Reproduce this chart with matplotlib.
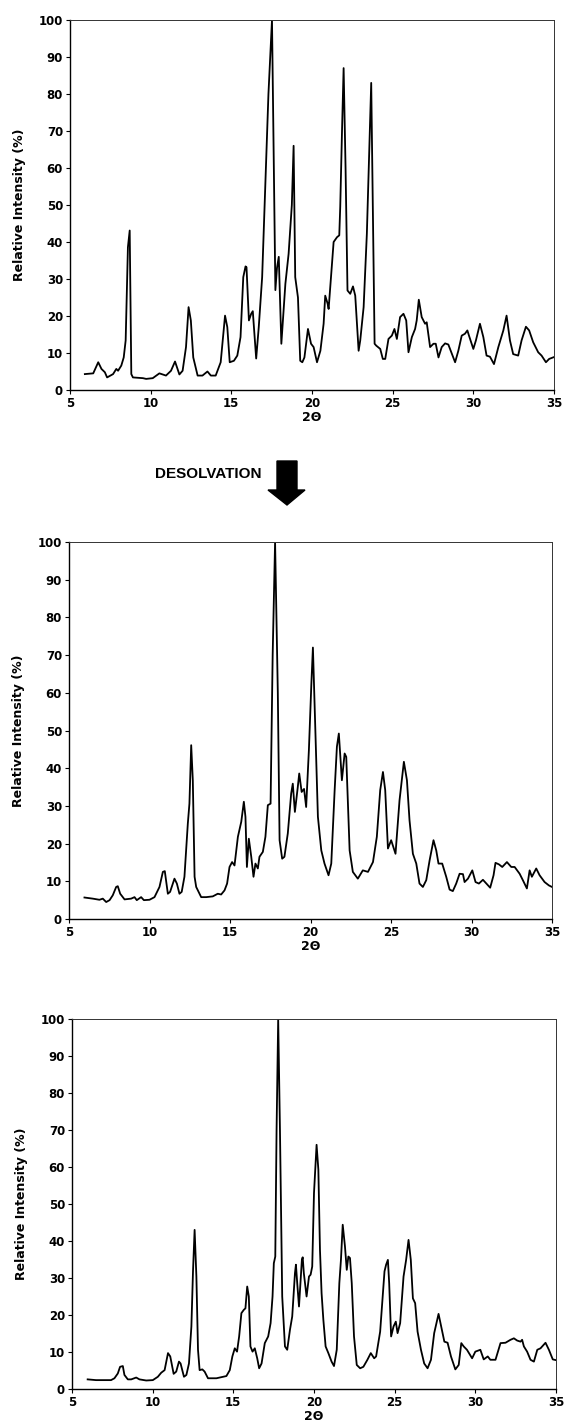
import matplotlib
matplotlib.use("Agg")
import matplotlib.pyplot as plt
from matplotlib.patches import Polygon

plt.rcParams['font.family'] = ['DejaVu Sans']
plt.rcParams['font.weight'] = 'bold'

# --- top pattern (solvate) ---
two_theta_a = [5.92, 6.44, 6.75, 6.95, 7.16, 7.30, 7.67, 7.87, 7.98, 8.18, 8.33, 8.45, 8.59, 8.70, 8.80, 8.90,
               9.52, 9.72, 10.13, 10.54, 10.95, 11.26, 11.51, 11.78, 11.98, 12.19, 12.35, 12.49, 12.64, 12.91,
               13.21, 13.52, 13.73, 14.03, 14.34, 14.61, 14.75, 14.90, 15.16, 15.37, 15.57, 15.74, 15.88, 15.94,
               16.09, 16.23, 16.33, 16.54, 16.70, 16.91, 17.11, 17.30, 17.52, 17.73, 17.83, 17.94, 18.10, 18.35,
               18.55, 18.75, 18.86, 18.96, 19.13, 19.27, 19.40, 19.53, 19.75, 19.94, 20.10, 20.31, 20.52, 20.72,
               20.82, 20.97, 21.03, 21.24, 21.34, 21.55, 21.69, 21.75, 21.86, 21.96, 22.08, 22.20, 22.37, 22.54,
               22.68, 22.89, 22.99, 23.20, 23.40, 23.55, 23.67, 23.77, 23.88, 23.98, 24.23, 24.39, 24.54, 24.74,
               24.95, 25.11, 25.26, 25.46, 25.67, 25.84, 25.98, 26.19, 26.39, 26.49, 26.62, 26.80, 27.01, 27.11,
               27.32, 27.53, 27.67, 27.84, 28.04, 28.25, 28.45, 28.60, 28.87, 29.07, 29.28, 29.48, 29.63, 29.73,
               30.00, 30.16, 30.41, 30.62, 30.82, 31.03, 31.28, 31.55, 31.86, 32.06, 32.27, 32.47, 32.78, 32.99,
               33.26, 33.46, 33.71, 34.02, 34.23, 34.50, 34.70, 35.00]
intensity_a = [4.3, 4.5, 7.5, 5.7, 4.8, 3.4, 4.3, 5.7, 5.2, 6.6, 8.8, 13.4, 38.6, 43.1, 4.3, 3.4,
               3.2, 3.0, 3.2, 4.5, 3.9, 5.2, 7.7, 4.2, 5.2, 11.6, 22.4, 18.8, 8.8, 3.9,
               3.9, 5.0, 3.9, 3.9, 7.5, 20.1, 17.0, 7.5, 7.9, 9.3, 14.3, 30.5, 33.4, 33.2,
               18.8, 20.6, 21.3, 8.5, 17.0, 30.5, 56.0, 80.0, 100.0, 27.0, 33.0, 36.0, 12.5, 28.7,
               36.8, 50.0, 66.0, 30.5, 25.0, 7.9, 7.5, 8.8, 16.5, 12.5, 11.6, 7.5, 10.6, 17.9,
               25.5, 23.3, 21.9, 34.0, 40.0, 41.3, 41.8, 49.5, 70.0, 87.0, 60.0, 26.9, 26.0, 28.0,
               25.5, 10.6, 13.4, 22.4, 42.2, 65.0, 83.0, 50.0, 12.5, 12.0, 11.1, 8.4, 8.4, 13.8,
               14.7, 16.5, 13.8, 19.7, 20.6, 18.8, 10.2, 14.3, 16.5, 18.8, 24.4, 19.7, 17.9, 18.3,
               11.6, 12.5, 12.5, 8.8, 11.6, 12.6, 12.3, 10.6, 7.5, 10.6, 14.7, 15.2, 16.1, 14.7,
               11.1, 13.4, 17.9, 14.3, 9.3, 9.0, 7.0, 11.6, 16.1, 20.1, 13.4, 9.7, 9.3, 13.4,
               17.1, 16.1, 12.9, 10.2, 9.3, 7.5, 8.4, 8.9]

# --- middle pattern (after desolvation) ---
two_theta_b = [5.96, 6.48, 6.89, 7.10, 7.31, 7.52, 7.72, 7.93, 8.03, 8.18, 8.45, 8.86, 9.07, 9.21, 9.48, 9.65,
               10.00, 10.31, 10.52, 10.62, 10.83, 10.95, 11.14, 11.28, 11.55, 11.70, 11.86, 12.00, 12.17, 12.38,
               12.48, 12.59, 12.69, 12.80, 12.90, 13.21, 13.52, 13.93, 14.24, 14.45, 14.66, 14.82, 14.97, 15.13,
               15.28, 15.49, 15.70, 15.86, 15.96, 16.05, 16.17, 16.32, 16.46, 16.58, 16.73, 16.83, 17.04, 17.20,
               17.35, 17.52, 17.65, 17.80, 17.97, 18.08, 18.24, 18.38, 18.59, 18.80, 18.90, 19.03, 19.21, 19.30,
               19.45, 19.60, 19.73, 19.90, 20.05, 20.15, 20.31, 20.46, 20.67, 20.87, 21.12, 21.29, 21.50, 21.64,
               21.76, 21.95, 22.12, 22.22, 22.43, 22.63, 22.94, 23.25, 23.57, 23.88, 24.12, 24.33, 24.50, 24.64,
               24.81, 25.01, 25.28, 25.53, 25.80, 25.99, 26.15, 26.36, 26.57, 26.77, 26.98, 27.19, 27.40, 27.64,
               27.81, 27.95, 28.18, 28.43, 28.64, 28.84, 29.05, 29.26, 29.47, 29.57, 29.78, 30.05, 30.25, 30.46,
               30.71, 30.92, 31.16, 31.37, 31.49, 31.70, 31.91, 32.20, 32.47, 32.68, 32.99, 33.19, 33.44, 33.61,
               33.75, 34.02, 34.23, 34.54, 34.81, 35.00]
intensity_b = [5.7, 5.4, 5.1, 5.4, 4.5, 5.0, 6.3, 8.5, 8.7, 6.7, 5.2, 5.4, 5.8, 5.0, 5.8, 5.0,
               5.1, 5.8, 7.6, 8.5, 12.5, 12.7, 6.7, 7.2, 10.7, 9.4, 6.7, 7.2, 11.2, 25.3,
               30.6, 46.1, 36.8, 11.2, 8.5, 5.8, 5.8, 6.0, 6.7, 6.5, 7.6, 9.4, 13.8, 15.1,
               14.2, 21.8, 25.8, 31.1, 27.1, 13.8, 21.3, 16.5, 11.2, 14.7, 13.4, 16.5, 17.8, 21.8,
               30.2, 30.6, 70.0, 100.0, 60.0, 20.9, 16.0, 16.5, 22.7, 33.3, 35.9, 28.4, 35.0, 38.6,
               33.7, 34.5, 29.7, 44.8, 62.0, 72.0, 49.2, 27.1, 18.2, 14.7, 11.6, 14.7, 34.2, 45.7,
               49.2, 36.8, 43.9, 43.0, 18.2, 12.5, 10.7, 12.9, 12.5, 15.1, 21.8, 34.2, 39.0, 34.2,
               18.7, 20.9, 17.3, 31.5, 41.7, 36.8, 26.2, 17.3, 14.7, 9.4, 8.5, 10.3, 15.6, 20.9,
               18.2, 14.7, 14.7, 11.2, 7.8, 7.4, 9.4, 12.0, 11.9, 9.8, 10.7, 12.9, 9.8, 9.4,
               10.4, 9.4, 8.3, 11.6, 14.9, 14.5, 13.8, 15.1, 13.8, 13.8, 12.0, 10.3, 8.1, 12.9,
               11.2, 13.4, 11.6, 9.8, 8.9, 8.5]

# --- bottom pattern (reference form) ---
two_theta_c = [5.97, 6.49, 6.91, 7.42, 7.63, 7.84, 7.98, 8.15, 8.25, 8.46, 8.67, 8.98, 9.18, 9.60, 10.01, 10.32,
               10.53, 10.74, 10.95, 11.09, 11.30, 11.46, 11.63, 11.73, 11.94, 12.09, 12.25, 12.40, 12.50, 12.60,
               12.71, 12.81, 12.91, 13.08, 13.22, 13.43, 13.95, 14.36, 14.57, 14.78, 14.94, 15.09, 15.23, 15.36,
               15.50, 15.65, 15.75, 15.86, 15.96, 16.06, 16.19, 16.33, 16.48, 16.60, 16.75, 16.95, 17.16, 17.31,
               17.43, 17.51, 17.60, 17.68, 17.78, 17.89, 18.03, 18.20, 18.34, 18.51, 18.65, 18.82, 18.88, 18.96,
               19.07, 19.25, 19.30, 19.37, 19.54, 19.69, 19.79, 19.89, 20.00, 20.16, 20.27, 20.37, 20.47, 20.58,
               20.72, 20.89, 21.09, 21.24, 21.41, 21.57, 21.67, 21.78, 21.92, 22.03, 22.13, 22.23, 22.34, 22.48,
               22.65, 22.86, 23.06, 23.31, 23.52, 23.73, 23.85, 24.10, 24.26, 24.37, 24.47, 24.58, 24.66, 24.78,
               24.93, 25.07, 25.18, 25.34, 25.55, 25.71, 25.86, 26.00, 26.13, 26.27, 26.42, 26.63, 26.83, 27.04,
               27.25, 27.45, 27.72, 27.93, 28.08, 28.28, 28.49, 28.76, 28.97, 29.13, 29.28, 29.48, 29.80, 30.00,
               30.31, 30.52, 30.77, 30.93, 31.25, 31.56, 31.87, 32.18, 32.39, 32.59, 32.80, 32.90, 33.01, 33.21,
               33.42, 33.63, 33.84, 34.04, 34.35, 34.56, 34.80, 35.00]
intensity_c = [2.6, 2.4, 2.4, 2.4, 2.9, 4.2, 6.0, 6.2, 3.8, 2.6, 2.6, 3.1, 2.6, 2.3, 2.4, 3.3,
               4.4, 5.1, 9.7, 8.8, 4.1, 4.7, 7.4, 6.9, 3.3, 3.8, 6.9, 16.9, 31.8, 43.0,
               30.4, 10.6, 5.1, 5.3, 4.7, 2.9, 2.9, 3.3, 3.5, 5.1, 8.8, 11.0, 10.1, 14.2,
               20.5, 21.4, 21.8, 27.7, 25.0, 11.5, 10.1, 11.0, 8.3, 5.6, 6.9, 12.4, 14.2, 17.8,
               25.0, 34.0, 35.8, 70.0, 100.0, 70.0, 25.0, 11.5, 10.6, 16.0, 19.6, 31.3, 33.6, 28.6,
               22.3, 35.0, 35.6, 31.3, 25.0, 30.4, 30.9, 33.1, 53.0, 66.0, 59.3, 37.6, 25.9, 18.7,
               11.5, 9.7, 7.4, 6.2, 10.6, 28.6, 34.9, 44.4, 38.5, 32.2, 35.8, 35.4, 28.6, 14.2,
               6.5, 5.6, 6.0, 7.9, 9.7, 8.3, 8.8, 15.5, 25.0, 31.8, 33.6, 34.9, 28.6, 14.2,
               16.9, 18.2, 15.1, 17.8, 30.4, 34.9, 40.3, 34.9, 24.5, 23.2, 15.5, 10.6, 6.9, 5.6,
               7.9, 15.1, 20.3, 16.0, 12.8, 12.5, 8.8, 5.3, 6.5, 12.4, 11.5, 10.6, 8.3, 10.1,
               10.6, 8.0, 8.8, 7.9, 7.9, 12.4, 12.5, 13.3, 13.7, 13.1, 12.8, 13.3, 11.5, 10.1,
               7.9, 7.4, 10.6, 11.0, 12.5, 10.6, 8.0, 7.8]

x_ticks = [5, 10, 15, 20, 25, 30, 35]
y_ticks = [0, 10, 20, 30, 40, 50, 60, 70, 80, 90, 100]

W, H = 567, 1427
fig = plt.figure(figsize=(W / 100, H / 100), dpi=100)

# panel boxes in pixels: left, right, top, bottom
boxes = [(70, 554, 20, 390), (69, 552, 542, 919), (72, 556, 1019, 1389)]
series = [(two_theta_a, intensity_a), (two_theta_b, intensity_b), (two_theta_c, intensity_c)]

for (l, r, t, b), (x, y) in zip(boxes, series):
    ax = fig.add_axes([l / W, 1 - b / H, (r - l) / W, (b - t) / H])
    ax.plot(x, y, color='black', lw=1.3)
    ax.set_xlim(5, 35)
    ax.set_ylim(0, 100)
    ax.set_xticks(x_ticks)
    ax.set_yticks(y_ticks)
    ax.tick_params(direction='out', length=3, width=0.8, pad=2, labelsize=8.5)
    for lab in ax.get_xticklabels() + ax.get_yticklabels():
        lab.set_fontweight('bold')
    for side in ['left', 'bottom']:
        ax.spines[side].set_linewidth(1.0)
    for side in ['top', 'right']:
        ax.spines[side].set_linewidth(0.7)
        ax.spines[side].set_color('#333333')
    ax.set_xlabel('2\u0398', fontsize=9, fontweight='bold', labelpad=1)
    ax.set_ylabel('Relative Intensity (%)', fontsize=9, fontweight='bold', labelpad=9)

# desolvation label and arrow between first two panels
fig.text(262 / W, 1 - 474 / H, 'DESOLVATION', ha='right', va='center',
         fontsize=11, fontweight='bold', family='Liberation Sans')
arrow_px = [(277, 461), (297, 461), (297, 490), (305, 490), (287, 505), (268, 490), (277, 490)]
arrow = Polygon([(px / W, 1 - py / H) for px, py in arrow_px], closed=True,
                transform=fig.transFigure, facecolor='black', edgecolor='black')
fig.add_artist(arrow)

fig.savefig('out.png', dpi=100)
